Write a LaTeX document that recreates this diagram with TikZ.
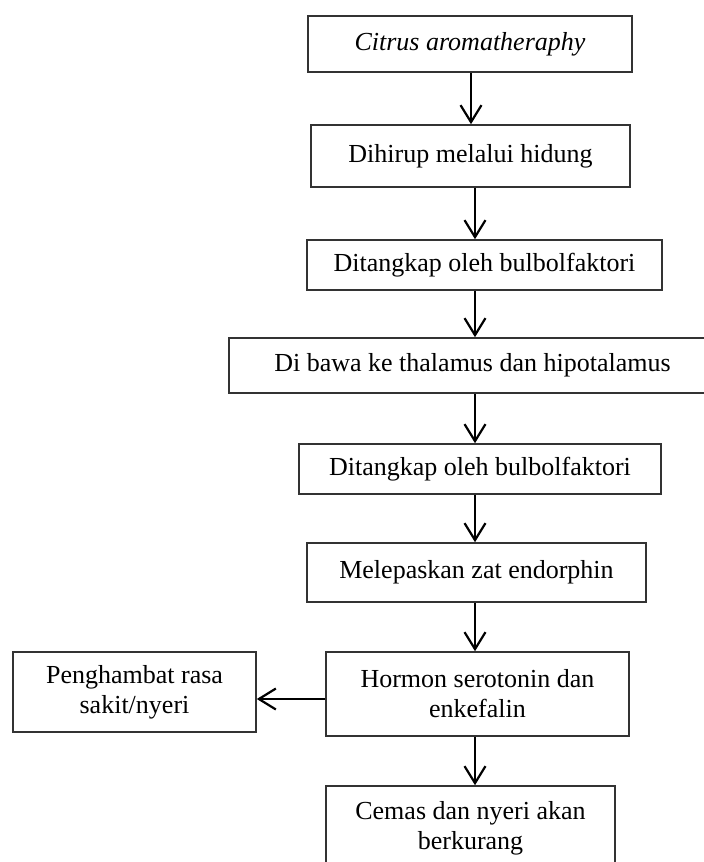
\documentclass[tikz,border=0pt]{standalone}
\usepackage{fontspec}
\setmainfont{Liberation Serif}
\usetikzlibrary{arrows.meta}

\begin{document}
\begin{tikzpicture}[x=1pt,y=-1pt,
        box/.style={draw=black!80, line width=1.6pt, rectangle, inner sep=0pt, align=center,
          font=\fontsize{26}{30}\selectfont},
        flow/.style={draw=black, line width=2.4pt,
          -{Straight Barb[length=17pt,width=21pt,line width=2.2pt]}}]
        \useasboundingbox (0,0) rectangle (704,862);
        \node [box, minimum width=324pt, minimum height=56pt] (aroma) at (470,44) {\textit{Citrus aromatheraphy}};
        \node [box, minimum width=319pt, minimum height=62pt] (hirup) at (470.5,156) {Dihirup melalui hidung};
        \node [box, minimum width=355pt, minimum height=50pt] (tangkap) at (484.5,265) {Ditangkap oleh bulbolfaktori};
        \node [box, minimum width=487pt, minimum height=55pt] (bawa) at (472.5,365.5) {Di bawa ke thalamus dan hipotalamus};
        \node [box, minimum width=362pt, minimum height=50pt] (tangkapb) at (480,469) {Ditangkap oleh bulbolfaktori};
        \node [box, minimum width=339pt, minimum height=59pt] (lepas) at (476.5,572.5) {Melepaskan zat endorphin};
        \node [box, minimum width=303pt, minimum height=84pt] (hormon) at (477.5,694) {Hormon serotonin dan\\enkefalin};
        \node [box, minimum width=243pt, minimum height=80pt] (hambat) at (134.5,692) {Penghambat rasa\\sakit/nyeri};
        \node [box, minimum width=289pt, minimum height=84pt] (cemas) at (470.5,828) {Cemas dan nyeri akan\\berkurang};
        % vertical spine of the arrows
        \coordinate (spine) at (475,0);
        \coordinate (side) at (0,699);
        \draw [flow] (aroma.south -| 471,0) -- (hirup.north -| 471,0);
        \draw [flow] (hirup.south -| spine) -- (tangkap.north -| spine);
        \draw [flow] (tangkap.south -| spine) -- (bawa.north -| spine);
        \draw [flow] (bawa.south -| spine) -- (tangkapb.north -| spine);
        \draw [flow] (tangkapb.south -| spine) -- (lepas.north -| spine);
        \draw [flow] (lepas.south -| spine) -- (hormon.north -| spine);
        \draw [flow] (hormon.south -| spine) -- (cemas.north -| spine);
        \draw [flow] (hormon.west |- side) -- (hambat.east |- side);
\end{tikzpicture}
\end{document}
